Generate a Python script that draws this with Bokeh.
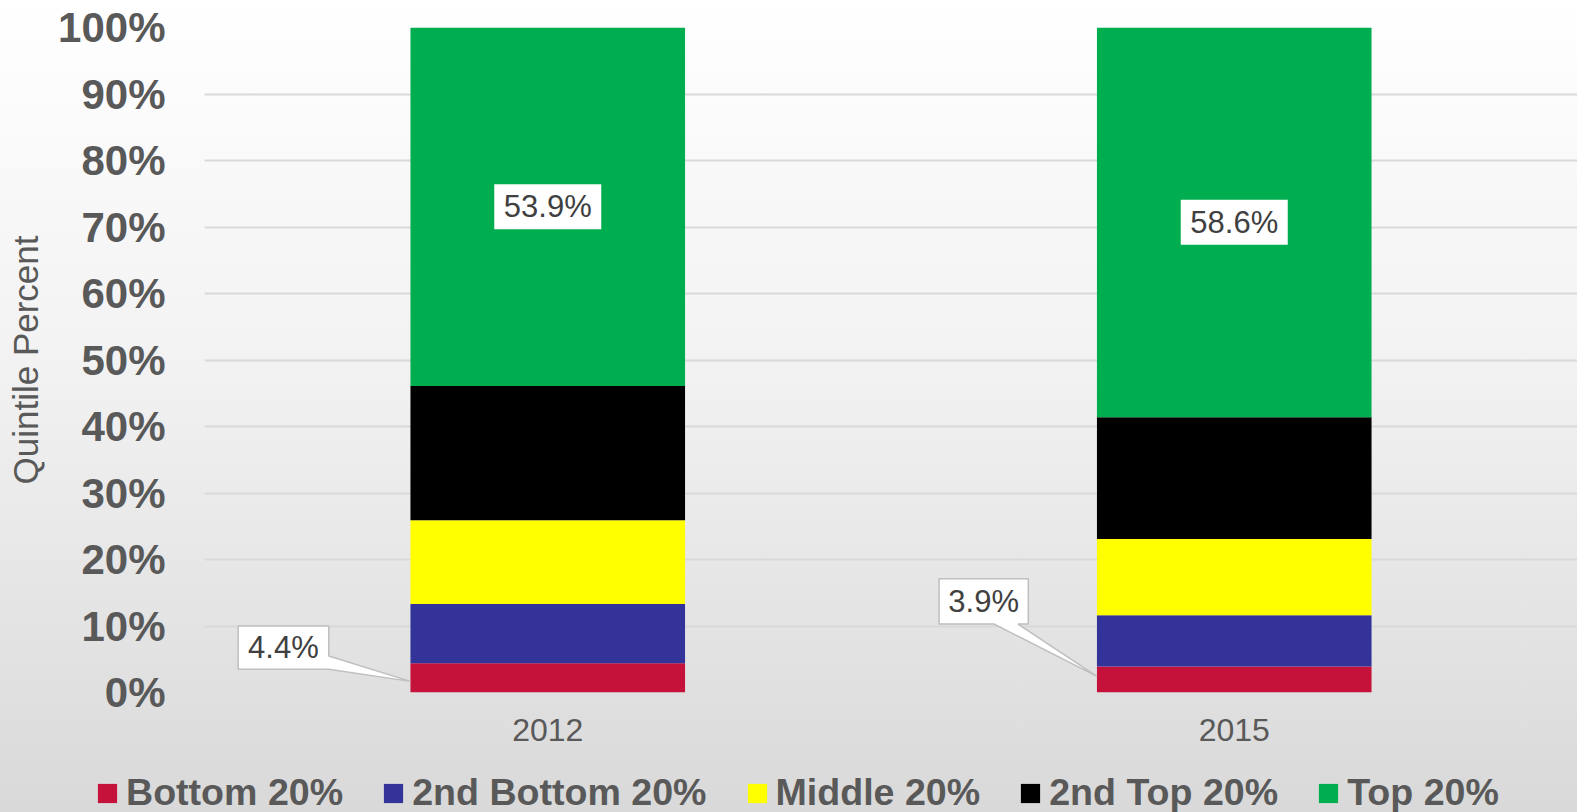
from bokeh.plotting import figure
from bokeh.layouts import column
from bokeh.models import (FixedTicker, PrintfTickFormatter, Legend, LegendItem,
                          ColumnDataSource)
from bokeh.embed import file_html
from bokeh.resources import INLINE
from bokeh.core.properties import value

# ---------------- data ----------------
years = ["2012", "2015"]
quintiles = ["Bottom 20%", "2nd Bottom 20%", "Middle 20%", "2nd Top 20%", "Top 20%"]
bottom_20 = [4.4, 3.9]
second_bottom_20 = [8.9, 7.7]
middle_20 = [12.6, 11.5]
second_top_20 = [20.2, 18.3]
top_20 = [53.9, 58.6]
y_ticks = [0, 10, 20, 30, 40, 50, 60, 70, 80, 90, 100]

colors = ["#C4123A", "#333399", "#FFFF00", "#000000", "#00AE4F"]
series = [bottom_20, second_bottom_20, middle_20, second_top_20, top_20]

FONT = "Liberation Sans"
GRAY = "#595959"
BAR_W = 0.4
W, H = 1577, 812
LEG_H = 52

xs = [i + 1 for i in range(len(years))]
keys = [f"s{i}" for i in range(len(series))]
data = {"x": xs}
for k, s in zip(keys, series):
    data[k] = s
src = ColumnDataSource(data)

p = figure(width=W, height=H - LEG_H, x_range=(0.5, len(years) + 0.5), y_range=(0, 100),
           output_backend="svg", toolbar_location=None,
           min_border_left=204, min_border_right=0, min_border_top=27, min_border_bottom=68)
p.background_fill_color = None
p.border_fill_color = None
p.outline_line_color = None

renderers = p.vbar_stack(keys, x="x", width=BAR_W, color=colors, source=src, line_color=None)

# grid / axes
p.xgrid.visible = False
p.ygrid.grid_line_color = "#D9D9D9"
p.ygrid.grid_line_width = 2
p.ygrid.ticker = FixedTicker(ticks=y_ticks)

p.yaxis.ticker = FixedTicker(ticks=y_ticks)
p.yaxis.formatter = PrintfTickFormatter(format="%d%%")
p.yaxis.axis_line_color = None
p.yaxis.major_tick_line_color = None
p.yaxis.minor_tick_line_color = None
p.yaxis.major_label_standoff = 33
p.yaxis.major_label_text_font = FONT
p.yaxis.major_label_text_font_style = "bold"
p.yaxis.major_label_text_font_size = "42px"
p.yaxis.major_label_text_color = GRAY
p.yaxis.axis_label = "Quintile Percent"
p.yaxis.axis_label_text_font = FONT
p.yaxis.axis_label_text_font_style = "normal"
p.yaxis.axis_label_text_font_size = "35px"
p.yaxis.axis_label_text_color = GRAY
p.yaxis.axis_label_standoff = 10

p.xaxis.ticker = FixedTicker(ticks=xs)
p.xaxis.major_label_overrides = {x: y for x, y in zip(xs, years)}
p.xaxis.axis_line_color = None
p.xaxis.major_tick_line_color = None
p.xaxis.minor_tick_line_color = None
p.xaxis.major_label_standoff = 20
p.xaxis.major_label_text_font = FONT
p.xaxis.major_label_text_font_size = "32px"
p.xaxis.major_label_text_color = GRAY

# data label for top segment (white box)
top_mid = [100 - t / 2 for t in top_20]
p.rect(x=xs, y=top_mid, width=107, height=45, width_units="screen", height_units="screen",
       fill_color="white", line_color=None)
p.text(x=xs, y=top_mid, text=[f"{t:.1f}%" for t in top_20], text_align="center",
       text_baseline="middle", text_font=value(FONT), text_font_size="31px", text_color="#404040")

# callouts for bottom segment
lefts = [x - BAR_W / 2 for x in xs]
# 2012: pointer from right edge of box
l0 = lefts[0]
bx0, bx1, by0, by1 = l0 - 0.251, l0 - 0.119, 3.5, 10.0
c1x = [bx0, bx0, bx1, bx1, l0, bx1]
c1y = [by0, by1, by1, 5.5, bottom_20[0] * 0.38, by0]
# 2015: pointer from bottom edge of box
l1 = lefts[1]
cx0, cx1, cy0, cy1 = l1 - 0.230, l1 - 0.100, 10.3, 17.1
c2x = [cx0, cx0, cx1, cx1, l1 - 0.115, l1, l1 - 0.150]
c2y = [cy0, cy1, cy1, cy0, cy0, bottom_20[1] * 0.62, cy0]
p.patches(xs=[c1x, c2x], ys=[c1y, c2y], fill_color="white", line_color="#BFBFBF", line_width=1.5)
p.text(x=[(bx0 + bx1) / 2, (cx0 + cx1) / 2], y=[(by0 + by1) / 2, (cy0 + cy1) / 2],
       text=[f"{b:.1f}%" for b in bottom_20], text_align="center", text_baseline="middle",
       text_font=value(FONT), text_font_size="31px", text_color="#404040")

# ---------------- legend strip ----------------
lg = figure(width=W, height=LEG_H, x_range=(0, 1), y_range=(0, 1),
            output_backend="svg", toolbar_location=None,
            min_border_left=0, min_border_right=0, min_border_top=0, min_border_bottom=0)
lg.background_fill_color = None
lg.border_fill_color = None
lg.outline_line_color = None
lg.axis.visible = False
lg.grid.visible = False

leg_x = 95
try:
    lg.frame_align = False
    p.frame_align = False
except Exception:
    leg_x = 95 - 204

# hidden proxy glyphs (entirely outside the visible ranges) that carry the legend colours
leg_renderers = [lg.vbar(x=[-5], bottom=[-2], top=[-1], width=0.1, color=c, line_color=None)
                 for c in colors]
legend = Legend(items=[LegendItem(label=q, renderers=[r]) for q, r in zip(quintiles, leg_renderers)],
                orientation="horizontal", location=(leg_x, -2), padding=0, margin=0,
                spacing=38, label_standoff=7, glyph_width=24, glyph_height=24,
                label_text_font=FONT, label_text_font_style="bold", label_text_font_size="37.6px",
                label_text_color=GRAY, background_fill_alpha=0, border_line_color=None)
lg.add_layout(legend)

layout = column(p, lg, spacing=0)
layout.styles = {"background-image": "linear-gradient(to bottom, #FFFFFF 0%, #F2F2F2 45%, #D9D9D9 100%)"}

open("out.html", "w").write(file_html(layout, INLINE))
